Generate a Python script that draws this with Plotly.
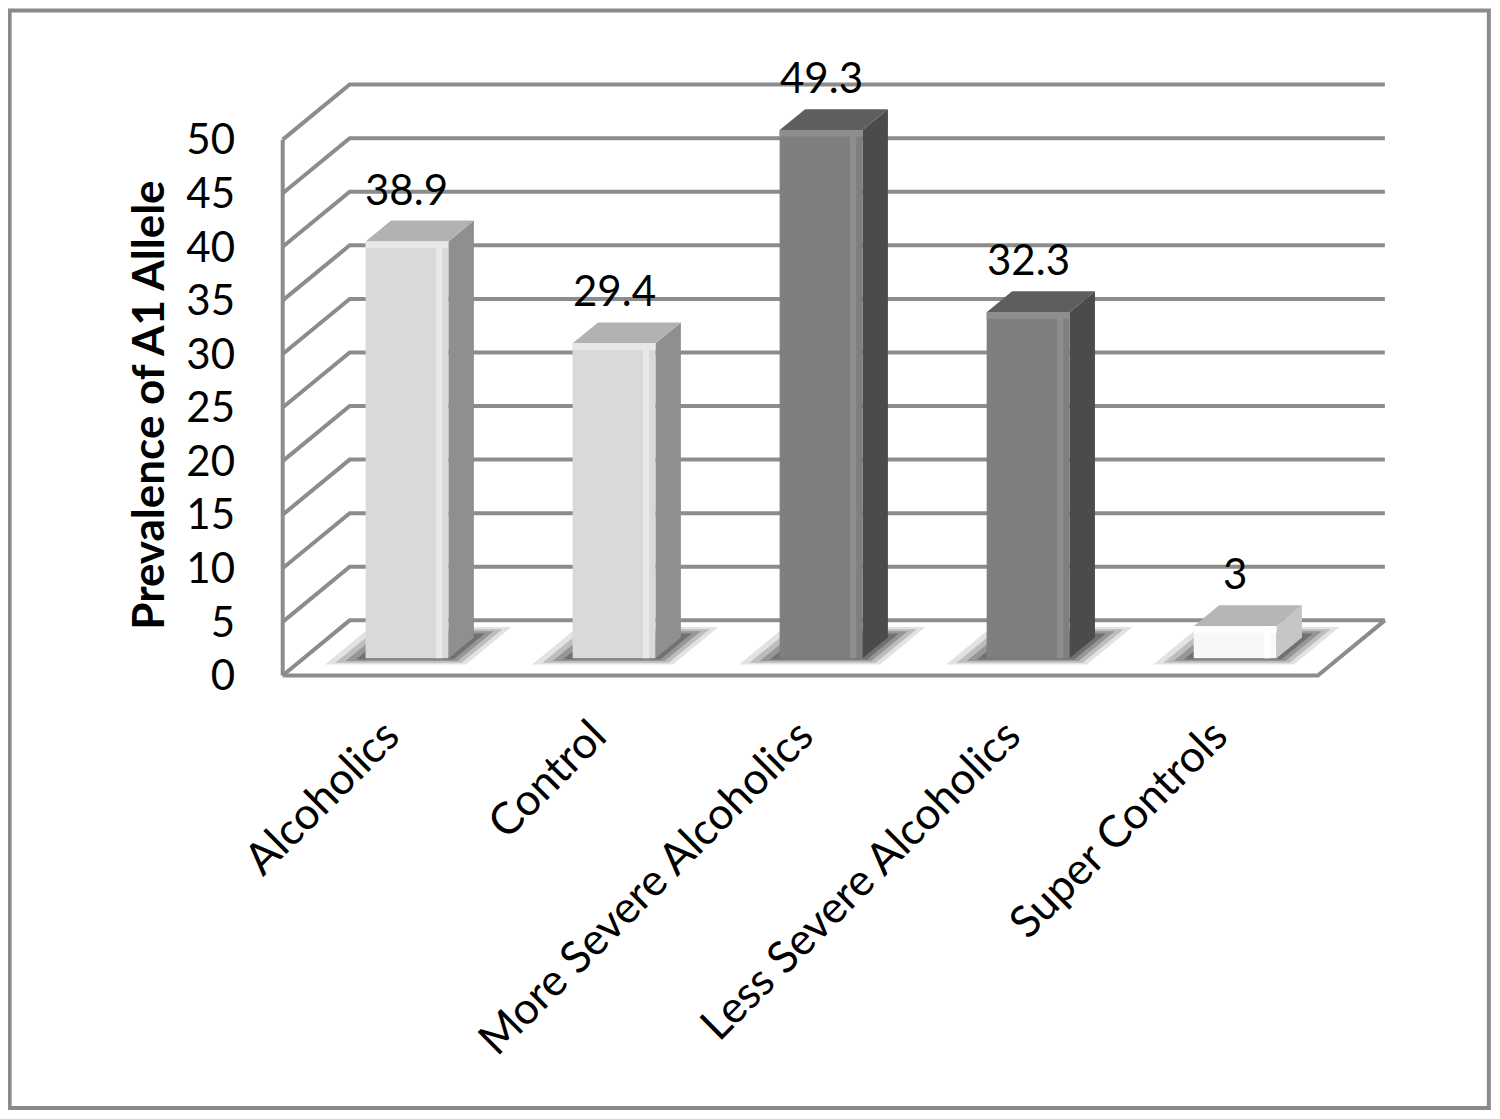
import plotly.graph_objects as go

# ---------------- data ----------------
categories = ["Alcoholics", "Control", "More Severe Alcoholics",
              "Less Severe Alcoholics", "Super Controls"]
values = [38.9, 29.4, 49.3, 32.3, 3]
value_labels = ["38.9", "29.4", "49.3", "32.3", "3"]
y_ticks = [0, 5, 10, 15, 20, 25, 30, 35, 40, 45, 50]

# ---------------- styles ----------------
front_colors = ["#d9d9d9", "#d9d9d9", "#7f7f7f", "#7f7f7f", "#f8f8f8"]
front_light = ["#e8e8e8", "#e8e8e8", "#8e8e8e", "#8e8e8e", "#ffffff"]
side_colors = ["#8f8f8f", "#8f8f8f", "#4b4b4b", "#4b4b4b", "#c6c6c6"]
top_colors = ["#b2b2b2", "#b2b2b2", "#5e5e5e", "#5e5e5e", "#b6b6b6"]
grid_color = "#8c8c8c"
FONT = "Lato"

OFF = 8                      # default body margin of the html page
FIG_W, FIG_H = 1500 - OFF, 1119 - OFF
PX_X = 207.0        # pixels per category unit
PX_Y = 10.7         # pixels per value unit
DX = 67 / PX_X      # depth offset in x (category units)
DY = 55 / PX_Y      # depth offset in y (value units)
Z0, Z1 = 0.31, 0.69 # depth span of bars
HALF = 0.2          # half bar width
BEVEL_X = 0.03      # highlight strip width (category units)
BEVEL_Y = 0.6       # highlight strip height (value units)

X_RANGE = [-0.6, 4.95]
Y_RANGE = [-0.8, 56.5]
X0_PX = 386.5 - OFF  # pixel of x = 0 (front plane)
Y0_PX = 675.0 - OFF  # pixel of y = 0 (front plane)

plot_w = (X_RANGE[1] - X_RANGE[0]) * PX_X
plot_h = (Y_RANGE[1] - Y_RANGE[0]) * PX_Y
L = X0_PX + X_RANGE[0] * PX_X
T = Y0_PX - Y_RANGE[1] * PX_Y
R = FIG_W - L - plot_w
B = FIG_H - T - plot_h


def px_paper_x(px):
    return (px - OFF - L) / plot_w


def px_paper_y(py):
    return (T + plot_h - (py - OFF)) / plot_h


def proj(c, v, z):
    return c + z * DX, v + z * DY


def poly(points, color, opacity=1.0):
    xs, ys = zip(*[proj(*p) for p in points])
    xs = list(xs) + [xs[0]]
    ys = list(ys) + [ys[0]]
    return go.Scatter(x=xs, y=ys, mode="lines", fill="toself", fillcolor=color,
                      line=dict(width=0, color=color), opacity=opacity,
                      hoverinfo="skip", showlegend=False)


fig = go.Figure()

# ---- walls / grid ----
gx, gy = [], []
n = len(categories)
left, right = -0.5, n - 0.5
for t in y_ticks:
    for p in [proj(left, t, 0), proj(left, t, 1), proj(right, t, 1)]:
        gx.append(p[0]); gy.append(p[1])
    gx.append(None); gy.append(None)
for p in [proj(left, 0, 0), proj(left, y_ticks[-1], 0)]:
    gx.append(p[0]); gy.append(p[1])
gx.append(None); gy.append(None)
for p in [proj(left, 0, 0), proj(right, 0, 0), proj(right, 0, 1)]:
    gx.append(p[0]); gy.append(p[1])
fig.add_trace(go.Scatter(x=gx, y=gy, mode="lines",
                         line=dict(color=grid_color, width=4),
                         hoverinfo="skip", showlegend=False))

# ---- soft shadows on the floor ----
for i, v in enumerate(values):
    c = i
    for (a, b, z0, z1, op) in [(-0.36, 0.32, 0.20, 0.88, 0.15),
                               (-0.32, 0.29, 0.23, 0.84, 0.22),
                               (-0.28, 0.26, 0.26, 0.80, 0.30),
                               (-0.24, 0.23, 0.29, 0.76, 0.40)]:
        fig.add_trace(poly([(c + a, 0, z0), (c + b, 0, z0),
                            (c + b, 0, z1), (c + a, 0, z1)], "#3a3a3a", op))

# ---- bars ----
for i, v in enumerate(values):
    c = i
    xl, xr = c - HALF, c + HALF
    fig.add_trace(poly([(xr, 0, Z0), (xr, 0, Z1), (xr, v, Z1), (xr, v, Z0)],
                       side_colors[i]))
    fig.add_trace(poly([(xl, v, Z0), (xr, v, Z0), (xr, v, Z1), (xl, v, Z1)],
                       top_colors[i]))
    fig.add_trace(poly([(xl, 0, Z0), (xr, 0, Z0), (xr, v, Z0), (xl, v, Z0)],
                       front_colors[i]))
    # bevel highlights on the front face (top edge and right edge)
    fig.add_trace(poly([(xl, v - BEVEL_Y, Z0), (xr, v - BEVEL_Y, Z0),
                        (xr, v, Z0), (xl, v, Z0)], front_light[i]))
    fig.add_trace(poly([(xr - 2 * BEVEL_X, 0, Z0), (xr - BEVEL_X, 0, Z0),
                        (xr - BEVEL_X, v, Z0), (xr - 2 * BEVEL_X, v, Z0)],
                       front_light[i]))

# ---- value labels ----
annotations = []
for i, v in enumerate(values):
    y = proj(i, v, Z1)[1]
    x = proj(i, v, Z0)[0]
    annotations.append(dict(x=x, y=y, text=value_labels[i], showarrow=False,
                            xanchor="center", yanchor="bottom", yshift=5,
                            font=dict(family=FONT, size=42, color="#000000")))

# ---- y axis title ----
annotations.append(dict(xref="paper", yref="paper",
                        x=px_paper_x(147), y=px_paper_y(405),
                        text="<b>Prevalence of A1 Allele</b>", textangle=-90,
                        showarrow=False, xanchor="center", yanchor="middle",
                        font=dict(family=FONT, size=44, color="#000000")))

fig.update_layout(
    width=FIG_W, height=FIG_H,
    margin=dict(l=L, r=R, t=T, b=B, pad=0),
    paper_bgcolor="white", plot_bgcolor="white",
    showlegend=False,
    annotations=annotations,
    shapes=[dict(type="rect", xref="paper", yref="paper", layer="above",
                 x0=px_paper_x(10), x1=px_paper_x(1489),
                 y0=px_paper_y(11), y1=px_paper_y(1107),
                 line=dict(color="#8a8a8a", width=4), fillcolor="rgba(0,0,0,0)")],
    xaxis=dict(range=X_RANGE, tickvals=list(range(n)), ticktext=categories,
               tickangle=-45, showgrid=False, zeroline=False, showline=False,
               ticks="", ticklabelstandoff=16,
               tickfont=dict(family=FONT, size=44, color="#000000"),
               fixedrange=True),
    yaxis=dict(range=Y_RANGE, tickvals=y_ticks, showgrid=False, zeroline=False,
               showline=False, ticks="", ticklabelstandoff=26,
               tickfont=dict(family=FONT, size=42, color="#000000"),
               fixedrange=True),
)

fig.write_html("out.html")
